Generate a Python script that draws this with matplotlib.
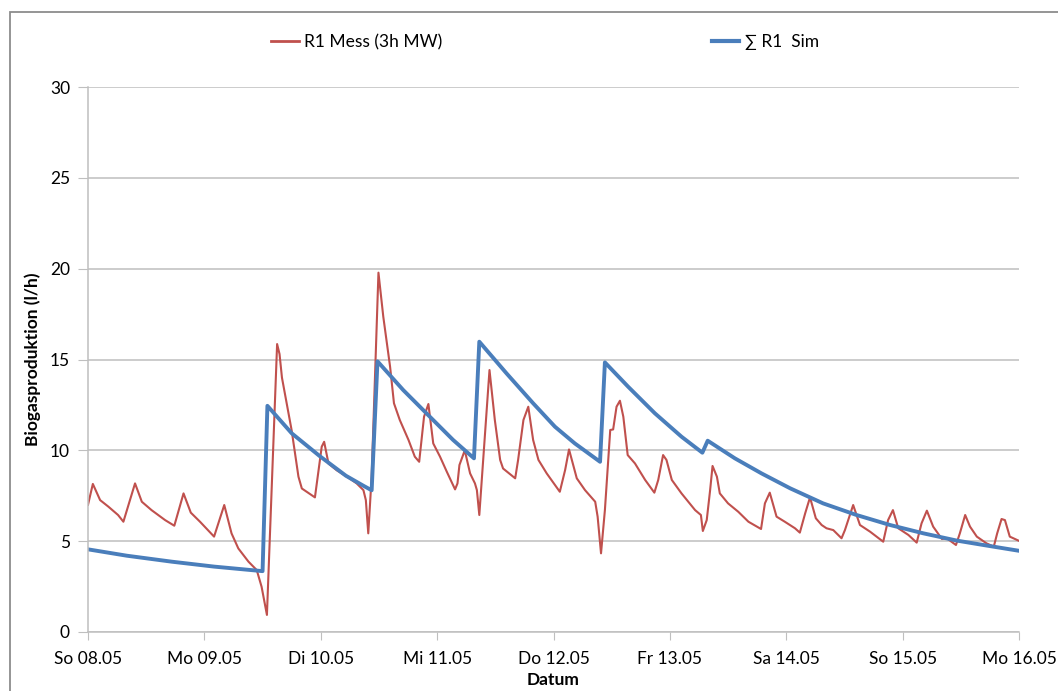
import numpy as np
import matplotlib
matplotlib.use("Agg")
import matplotlib.pyplot as plt
from matplotlib.lines import Line2D
from matplotlib.patches import Rectangle

plt.rcParams['font.family'] = ['Lato', 'DejaVu Sans']

# Messung R1, 3h gleitender Mittelwert (Stunden ab So 08.05 00:00, l/h)
mess_h = [0, 1.0, 2.5, 4.2, 6.2, 7.3, 9.7, 11.1, 13.1, 15.9, 17.8, 19.7, 21.2, 23.1,
          26.0, 28.1, 29.6, 31.0, 33.1, 34.8, 35.8, 36.9, 39.0, 39.5, 40.0, 42.0,
          43.4, 44.1, 46.8, 48.2, 48.7, 49.6, 51.3, 53.4, 55.4, 56.8, 57.3, 57.8,
          58.5, 59.9, 60.9, 62.3, 63.1, 64.3, 66.1, 67.4, 68.3, 69.3, 70.2, 71.2,
          72.6, 74.0, 75.7, 76.2, 76.6, 77.7, 78.8, 79.8, 80.2, 80.7, 81.5, 82.8,
          83.9, 85.0, 85.6, 88.1, 88.7, 89.8, 90.8, 91.8, 92.9, 94.6, 96.3, 97.3,
          98.4, 99.2, 100.8, 102.5, 104.6, 105.1, 105.8, 106.6, 107.7, 108.3, 109.0,
          109.7, 110.4, 111.3, 112.8, 114.9, 116.8, 117.6, 118.6, 119.3, 120.4,
          122.4, 125.2, 126.4, 126.8, 127.6, 128.3, 128.8, 129.7, 130.3, 132.0,
          134.1, 136.2, 138.8, 139.6, 140.6, 142.0, 143.7, 145.8, 146.8, 147.9,
          148.9, 150.1, 151.3, 152.3, 153.7, 155.4, 156.1, 157.8, 159.2, 161.3,
          164.0, 165.0, 166.0, 167.1, 169.2, 170.9, 171.9, 173.0, 174.3, 176.1,
          177.1, 179.0, 179.8, 180.9, 181.9, 183.3, 185.3, 186.8, 187.5, 188.4,
          189.1, 190.1, 191.9]
mess_val = [7.0, 8.15, 7.26, 6.9, 6.44, 6.07, 8.18, 7.17, 6.71, 6.16, 5.85, 7.63, 6.57, 6.07,
            5.25, 6.99, 5.43, 4.6, 3.87, 3.41, 2.49, 0.94, 15.85, 15.3, 14.0, 11.1,
            8.55, 7.9, 7.41, 10.2, 10.47, 9.27, 8.9, 8.55, 8.18, 7.81, 7.26, 5.43,
            8.55, 19.78, 17.35, 14.6, 12.59, 11.67, 10.57, 9.65, 9.37, 11.85, 12.55, 10.38,
            9.65, 8.82, 7.85, 8.18, 9.19, 10.0, 8.73, 8.18, 7.81, 6.44, 9.47, 14.42,
            11.67, 9.47, 9.0, 8.46, 9.47, 11.67, 12.4, 10.57, 9.47, 8.73, 8.09, 7.72,
            8.92, 10.05, 8.46, 7.81, 7.17, 6.35, 4.33, 6.71, 11.12, 11.15, 12.4,
            12.73, 11.85, 9.74, 9.28, 8.37, 7.67, 8.37, 9.74, 9.47, 8.37,
            7.63, 6.71, 6.44, 5.56, 6.16, 7.81, 9.14, 8.55, 7.63, 7.08,
            6.62, 6.07, 5.67, 7.08, 7.67, 6.35, 6.07, 5.71, 5.47, 6.53,
            7.41, 6.26, 5.89, 5.71, 5.61, 5.16, 5.61, 6.99, 5.89, 5.52,
            4.97, 6.16, 6.71, 5.71, 5.34, 4.92, 5.98, 6.68, 5.8, 5.12,
            5.16, 4.79, 5.43, 6.44, 5.8, 5.25, 4.88, 4.7, 5.43, 6.22,
            6.16, 5.25, 5.03]

# Simulation R1 (Summe)
sim_h = [0, 8.0, 17.3, 26.0, 36.0, 37.0, 42.0, 47.8, 53.2, 56.8, 58.5,
         59.7, 65.0, 70.5, 75.3, 79.6,
         80.7, 86.3, 91.8, 96.3, 100.4, 105.6,
         106.6, 111.4, 116.9, 122.4, 126.7,
         127.8, 133.4, 138.9, 144.8, 151.6, 158.5, 165.4, 172.3, 179.2, 186.0, 192.0]
sim_val = [4.55, 4.2, 3.87, 3.6, 3.35, 12.45, 10.94, 9.68, 8.6, 8.05, 7.8,
           14.9, 13.32, 11.85, 10.57, 9.56,
           15.98, 14.24, 12.59, 11.3, 10.38, 9.37,
           14.84, 13.5, 12.04, 10.75, 9.87,
           10.53, 9.56, 8.73, 7.91, 7.08, 6.44, 5.89, 5.43, 5.03, 4.73, 4.47]

day_labels = ['So 08.05', 'Mo 09.05', 'Di 10.05', 'Mi 11.05', 'Do 12.05',
              'Fr 13.05', 'Sa 14.05', 'So 15.05', 'Mo 16.05']

RED = '#C0504D'
BLUE = '#4A7EBB'
GRID = '#BFBFBF'

fig = plt.figure(figsize=(10.58, 6.91), dpi=100)
ax = fig.add_axes([88 / 1058, 1 - 632 / 691, (1019 - 88) / 1058, (632 - 87) / 691])

ax.plot(np.array(mess_h) / 24, mess_val, color=RED, lw=1.5, solid_joinstyle='round')
ax.plot(np.array(sim_h) / 24, sim_val, color=BLUE, lw=2.8, solid_joinstyle='round')

ax.set_xlim(0, 8)
ax.set_ylim(0, 30)
ax.set_xticks(range(9))
ax.set_xticklabels(day_labels, fontsize=12.5)
ax.set_yticks(range(0, 31, 5))
ax.tick_params(axis='y', labelsize=12.5, length=7, color=GRID, pad=6)
ax.tick_params(axis='x', length=6, color=GRID, pad=8)
ax.yaxis.grid(True, color=GRID, lw=1.1)
ax.set_axisbelow(True)
for s in ['top', 'right']:
    ax.spines[s].set_visible(False)
for s in ['left', 'bottom']:
    ax.spines[s].set_color(GRID)
    ax.spines[s].set_linewidth(1.1)

ax.set_ylabel('Biogasproduktion (l/h)', fontsize=12.5, fontweight='bold', labelpad=6)
ax.set_xlabel('Datum', fontsize=12.5, fontweight='bold', labelpad=3)

handles = [Line2D([], [], color=RED, lw=2), Line2D([], [], color=BLUE, lw=3)]
fig.legend(handles, ['R1 Mess (3h MW)', '\u2211 R1  Sim'], loc='center',
           bbox_to_anchor=(545 / 1058, 1 - 42 / 691), ncol=2, frameon=False,
           fontsize=12.5, handlelength=1.6, handletextpad=0.3, columnspacing=15.5)

# Rahmen des Diagrammbereichs
fig.patches.append(Rectangle((10 / 1058, -0.1), 1.2, 1 - 12 / 691 + 0.1,
                             transform=fig.transFigure, fill=False,
                             edgecolor='#8C8C8C', lw=1.3))

fig.savefig('out.png', dpi=100)
